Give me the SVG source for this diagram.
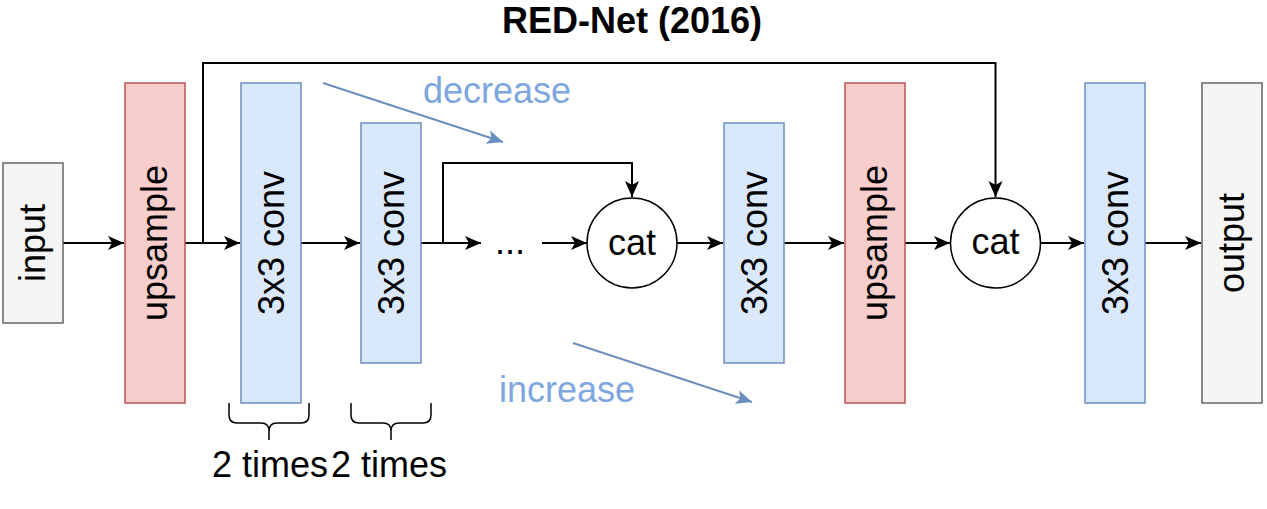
<svg xmlns="http://www.w3.org/2000/svg" width="1267" height="509" viewBox="0 0 1267 509">
<style>
text{font-family:"Liberation Sans",Arial,sans-serif;font-size:36px;fill:#000;text-anchor:middle}
.io{fill:#f5f5f5;stroke:#666666;stroke-width:1.5}
.up{fill:#f8cecc;stroke:#b85450;stroke-width:1.5}
.cv{fill:#dae8fc;stroke:#6c8ebf;stroke-width:1.5}
.ct{fill:#fff;stroke:#000;stroke-width:1.5}
.ln{fill:none;stroke:#000;stroke-width:2}
.bl{fill:none;stroke:#6c8ebf;stroke-width:2}
.bt{fill:#7ea6e0}
.br{fill:none;stroke:#000;stroke-width:1.5}
</style>
<defs>
<marker id="ah" markerUnits="userSpaceOnUse" markerWidth="18" markerHeight="16" refX="16" refY="7" orient="auto">
<path d="M0,0 L16,7 L0,14 L4,7 Z" fill="#000"/>
</marker>
<marker id="ahb" markerUnits="userSpaceOnUse" markerWidth="18" markerHeight="16" refX="16" refY="7" orient="auto">
<path d="M0,0 L16,7 L0,14 L4,7 Z" fill="#6c8ebf"/>
</marker>
</defs>
<text x="632" y="33" style="font-weight:bold">RED-Net (2016)</text>
<g id="connectors">
<path class="ln" d="M63,243 H124" marker-end="url(#ah)"/>
<path class="ln" d="M185,243 H240" marker-end="url(#ah)"/>
<path class="ln" d="M301,243 H360" marker-end="url(#ah)"/>
<path class="ln" d="M421,243 H481" marker-end="url(#ah)"/>
<path class="ln" d="M542,243 H587" marker-end="url(#ah)"/>
<path class="ln" d="M677,243 H723" marker-end="url(#ah)"/>
<path class="ln" d="M784,243 H844" marker-end="url(#ah)"/>
<path class="ln" d="M905,243 H950" marker-end="url(#ah)"/>
<path class="ln" d="M1041,243 H1084" marker-end="url(#ah)"/>
<path class="ln" d="M1145,243 H1201" marker-end="url(#ah)"/>
<path class="ln" d="M203,243 V63 H995.5 V197" marker-end="url(#ah)"/>
<path class="ln" d="M443,243 V163 H632 V197" marker-end="url(#ah)"/>
<path class="bl" d="M323,83 L503,142" marker-end="url(#ahb)"/>
<path class="bl" d="M573,343 L752,402" marker-end="url(#ahb)"/>
</g>
<g id="input"><rect class="io" x="3" y="163" width="60" height="160"/><text transform="translate(33,243) rotate(-90)" y="12">input</text></g>
<g id="upsample1"><rect class="up" x="125" y="83" width="60" height="320"/><text transform="translate(155,243) rotate(-90)" y="12">upsample</text></g>
<g id="conv1"><rect class="cv" x="241" y="83" width="60" height="320"/><text transform="translate(271,243) rotate(-90)" y="13">3x3 conv</text></g>
<g id="conv2"><rect class="cv" x="361" y="123" width="60" height="240"/><text transform="translate(391,243) rotate(-90)" y="13">3x3 conv</text></g>
<g id="dots"><text x="510" y="254">...</text></g>
<g id="cat1"><circle class="ct" cx="632" cy="243" r="45"/><text x="632" y="255">cat</text></g>
<g id="conv3"><rect class="cv" x="724" y="123" width="60" height="240"/><text transform="translate(754,243) rotate(-90)" y="13">3x3 conv</text></g>
<g id="upsample2"><rect class="up" x="845" y="83" width="60" height="320"/><text transform="translate(875,243) rotate(-90)" y="12">upsample</text></g>
<g id="cat2"><circle class="ct" cx="995.5" cy="243" r="45"/><text x="995.5" y="254">cat</text></g>
<g id="conv4"><rect class="cv" x="1085" y="83" width="60" height="320"/><text transform="translate(1115,243) rotate(-90)" y="13">3x3 conv</text></g>
<g id="output"><rect class="io" x="1202" y="83" width="60" height="320"/><text transform="translate(1232,243) rotate(-90)" y="12">output</text></g>
<g id="labels">
<text class="bt" x="497" y="103">decrease</text>
<text class="bt" x="567" y="402">increase</text>
</g>
<g id="brace1"><path class="br" d="M229,403 V415 Q229,423 237,423 H261 Q269,423 269,431 V440 M269,431 Q269,423 277,423 H301 Q309,423 309,415 V403"/><text x="270" y="477">2 times</text></g>
<g id="brace2"><path class="br" d="M351,403 V415 Q351,423 359,423 H383 Q391,423 391,431 V440 M391,431 Q391,423 399,423 H423 Q431,423 431,415 V403"/><text x="389" y="477">2 times</text></g>
</svg>
